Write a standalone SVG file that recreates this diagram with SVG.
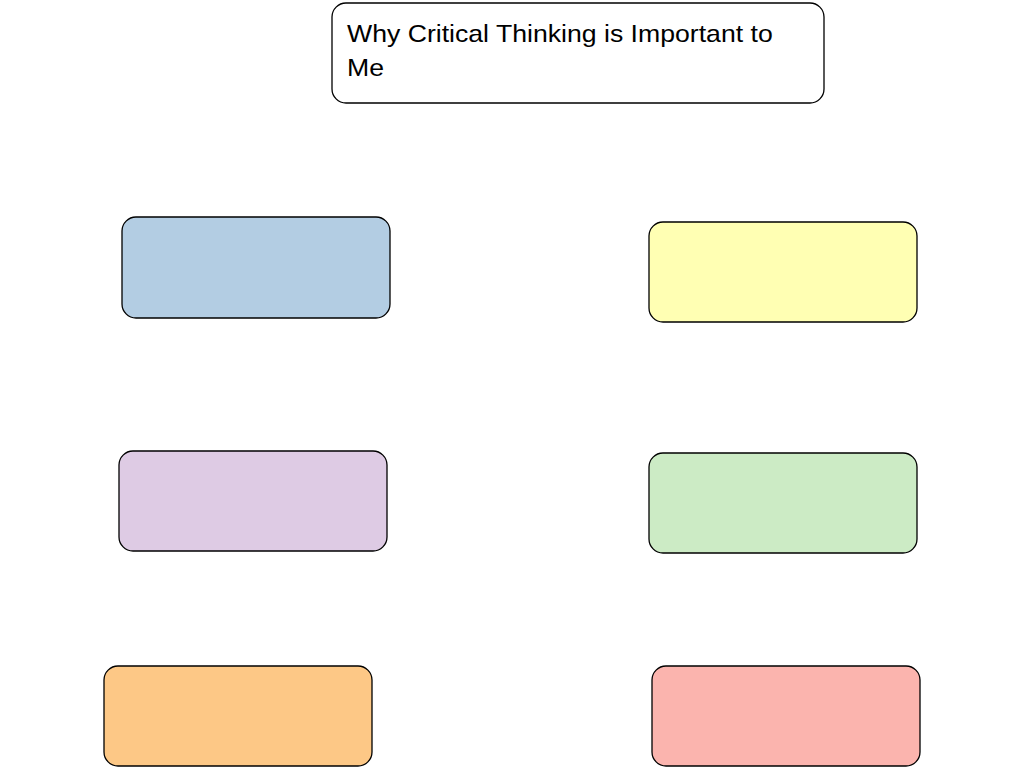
<svg xmlns="http://www.w3.org/2000/svg" width="1024" height="768" viewBox="0 0 1024 768">
<style>
.box{stroke:#000;stroke-width:1.3}
.t{font-family:"Liberation Sans",Arial,sans-serif;font-size:24px;fill:#000}
</style>
<rect width="1024" height="768" fill="#fff"/>
<g id="title"><rect class="box" x="332" y="3" width="492" height="100" rx="14" fill="#fff"/>
<g transform="translate(347 0) scale(1.11 1)">
<text class="t" x="0" y="42">Why Critical Thinking is Important to</text>
<text class="t" x="0" y="76">Me</text></g></g>
<g id="n1"><rect class="box" x="122" y="217" width="268" height="101" rx="14" fill="#b3cde3"/></g>
<g id="n2"><rect class="box" x="649" y="222" width="268" height="100" rx="14" fill="#ffffb3"/></g>
<g id="n3"><rect class="box" x="119" y="451" width="268" height="100" rx="14" fill="#decbe4"/></g>
<g id="n4"><rect class="box" x="649" y="453" width="268" height="100" rx="14" fill="#ccebc5"/></g>
<g id="n5"><rect class="box" x="104" y="666" width="268" height="100" rx="14" fill="#fdc886"/></g>
<g id="n6"><rect class="box" x="652" y="666" width="268" height="100" rx="14" fill="#fbb4ae"/></g>
<g id="connectors"></g>
</svg>
